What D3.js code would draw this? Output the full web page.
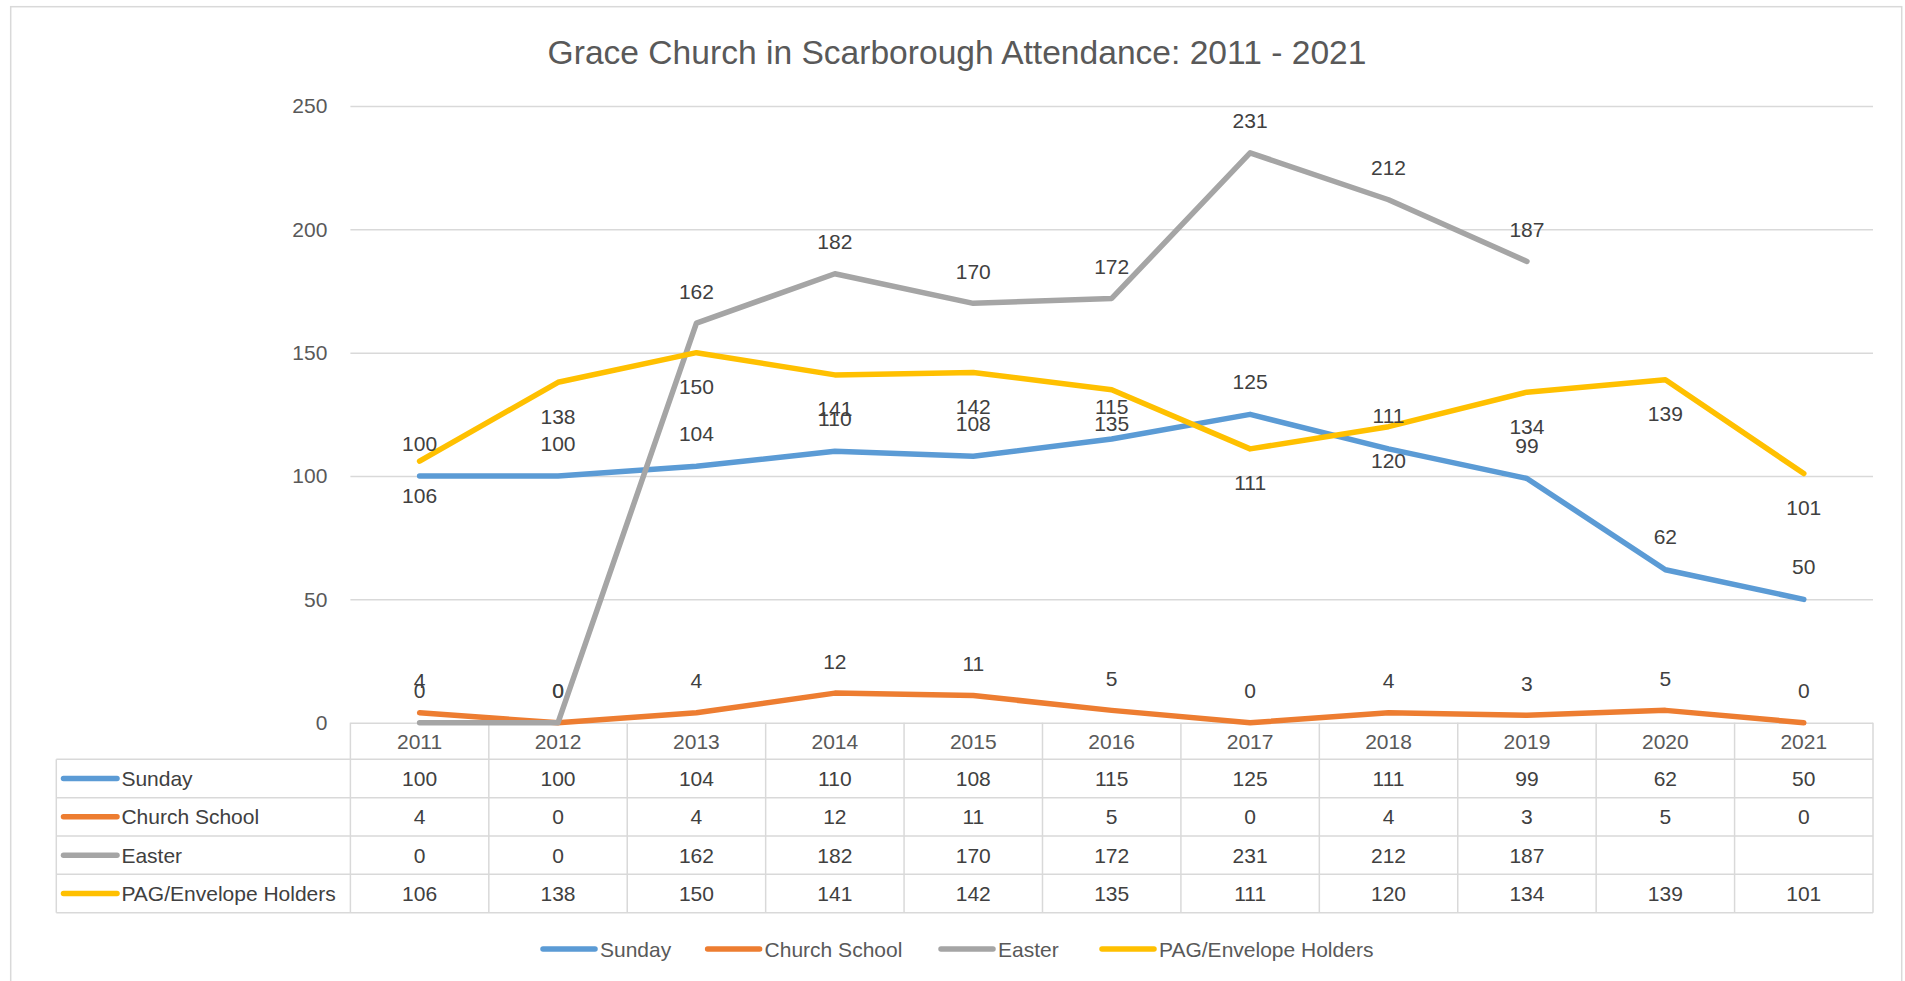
<!DOCTYPE html>
<html>
<head>
<meta charset="utf-8">
<script src="https://cdn.jsdelivr.net/npm/d3@7"></script>
<style>
  body { margin: 0; background: #fff; }
  text { font-family: "Liberation Sans", Arial, sans-serif; }
</style>
</head>
<body>
<div id="chart"></div>
<script>
// data
var years = ["2011", "2012", "2013", "2014", "2015", "2016", "2017", "2018", "2019", "2020", "2021"];
var seriesNames = ["Sunday", "Church School", "Easter", "PAG/Envelope Holders"];
var sunday = [100, 100, 104, 110, 108, 115, 125, 111, 99, 62, 50];
var churchSchool = [4, 0, 4, 12, 11, 5, 0, 4, 3, 5, 0];
var easter = [0, 0, 162, 182, 170, 172, 231, 212, 187, null, null];
var pag = [106, 138, 150, 141, 142, 135, 111, 120, 134, 139, 101];
var yTicks = [0, 50, 100, 150, 200, 250];
var chartTitle = "Grace Church in Scarborough Attendance: 2011 - 2021";

var colors = ["#5B9BD5", "#ED7D31", "#A5A5A5", "#FFC000"];

function draw(tag_name) {
    var width = 1905, height = 981;
    var plot = {left: 350.4, right: 1873, top: 106, bottom: 722.7};
    var headerH = 36.6, rowH = 38.35, tableLeft = 56.3;

    var svg = d3.select(tag_name).append("svg")
        .attr("width", width)
        .attr("height", height);

    // outer chart border
    svg.append("rect")
        .attr("x", 10.7).attr("y", 6.7)
        .attr("width", 1891).attr("height", 1000)
        .attr("fill", "#fff")
        .attr("stroke", "#d9d9d9").attr("stroke-width", 1.5);

    svg.append("text")
        .attr("x", 957).attr("y", 64)
        .attr("text-anchor", "middle")
        .style("font-size", "33.6px")
        .style("fill", "#595959")
        .text(chartTitle);

    var xScale = d3.scaleBand().domain(years).range([plot.left, plot.right]).padding(0);
    var bw = xScale.bandwidth();
    var yScale = d3.scaleLinear().domain([0, 250]).range([plot.bottom, plot.top]);

    // gridlines + y labels
    var yAxis = svg.append("g")
        .attr("transform", "translate(" + plot.left + ",0)")
        .call(d3.axisLeft(yScale).tickValues(yTicks).tickSize(-(plot.right - plot.left)).tickPadding(23));
    yAxis.select(".domain").remove();
    yAxis.selectAll(".tick line").attr("stroke", "#d9d9d9").attr("stroke-width", 1.5);
    yAxis.selectAll(".tick text")
        .style("font-size", "21px")
        .style("font-family", "Liberation Sans, Arial, sans-serif")
        .attr("fill", "#595959");

    // data table
    var rows = [sunday, churchSchool, easter, pag];
    var tableBottom = plot.bottom + headerH + rows.length * rowH;
    var grid = svg.append("g").attr("stroke", "#d9d9d9").attr("stroke-width", 1.5);
    for (var r = 0; r <= rows.length; r++) {
        var yy = plot.bottom + headerH + r * rowH;
        grid.append("line").attr("x1", tableLeft).attr("x2", plot.right).attr("y1", yy).attr("y2", yy);
    }
    grid.append("line").attr("x1", tableLeft).attr("x2", tableLeft)
        .attr("y1", plot.bottom + headerH).attr("y2", tableBottom);
    years.forEach(function(y) {
        grid.append("line").attr("x1", xScale(y)).attr("x2", xScale(y))
            .attr("y1", plot.bottom).attr("y2", tableBottom);
    });
    grid.append("line").attr("x1", plot.right).attr("x2", plot.right)
        .attr("y1", plot.bottom).attr("y2", tableBottom);

    // year header
    svg.selectAll(".yearLabel").data(years).enter().append("text")
        .attr("x", function(d) { return xScale(d) + bw / 2; })
        .attr("y", plot.bottom + headerH / 2)
        .attr("dy", "0.36em")
        .attr("text-anchor", "middle")
        .style("font-size", "21px").style("fill", "#595959")
        .text(function(d) { return d; });

    rows.forEach(function(vals, i) {
        var cy = plot.bottom + headerH + i * rowH + rowH / 2;
        svg.append("line")
            .attr("x1", 63.5).attr("x2", 117).attr("y1", cy).attr("y2", cy)
            .attr("stroke", colors[i]).attr("stroke-width", 5.5).attr("stroke-linecap", "round");
        svg.append("text").attr("x", 121.4).attr("y", cy).attr("dy", "0.36em")
            .style("font-size", "21px").style("fill", "#404040")
            .text(seriesNames[i]);
        svg.selectAll(null).data(vals).enter().append("text")
            .attr("x", function(d, j) { return xScale(years[j]) + bw / 2; })
            .attr("y", cy).attr("dy", "0.36em")
            .attr("text-anchor", "middle")
            .style("font-size", "21px").style("fill", "#404040")
            .text(function(d) { return d == null ? "" : d; });
    });

    // lines
    var line = d3.line()
        .defined(function(d) { return d != null; })
        .x(function(d, i) { return xScale(years[i]) + bw / 2; })
        .y(function(d) { return yScale(d); });

    // label offsets: Sunday / Church School / Easter above, PAG below
    var labelOffset = [-33, -32, -32, 34];
    var drawOrder = [0, 1, 2, 3];
    drawOrder.forEach(function(i) {
        svg.append("path")
            .datum(rows[i])
            .attr("fill", "none")
            .attr("stroke", colors[i])
            .attr("stroke-width", 5.5)
            .attr("stroke-linecap", "round")
            .attr("stroke-linejoin", "round")
            .attr("d", line);
    });
    drawOrder.forEach(function(i) {
        svg.selectAll(null).data(rows[i]).enter()
            .filter(function(d) { return d != null; })
            .append("text")
            .attr("x", function(d, j) { return xScale(years[j]) + bw / 2; })
            .attr("y", function(d) { return yScale(d) + labelOffset[i]; })
            .attr("dy", "0.36em")
            .attr("text-anchor", "middle")
            .style("font-size", "21px").style("fill", "#404040")
            .text(function(d) { return d; });
    });

    // legend
    var legendX = [541, 705.6, 939, 1100];
    seriesNames.forEach(function(name, i) {
        svg.append("line")
            .attr("x1", legendX[i] + 2).attr("x2", legendX[i] + 54).attr("y1", 949).attr("y2", 949)
            .attr("stroke", colors[i]).attr("stroke-width", 5.5).attr("stroke-linecap", "round");
        svg.append("text").attr("x", legendX[i] + 59).attr("y", 949).attr("dy", "0.36em")
            .style("font-size", "21px").style("fill", "#595959")
            .text(name);
    });
}

draw("#chart");
</script>
</body>
</html>
